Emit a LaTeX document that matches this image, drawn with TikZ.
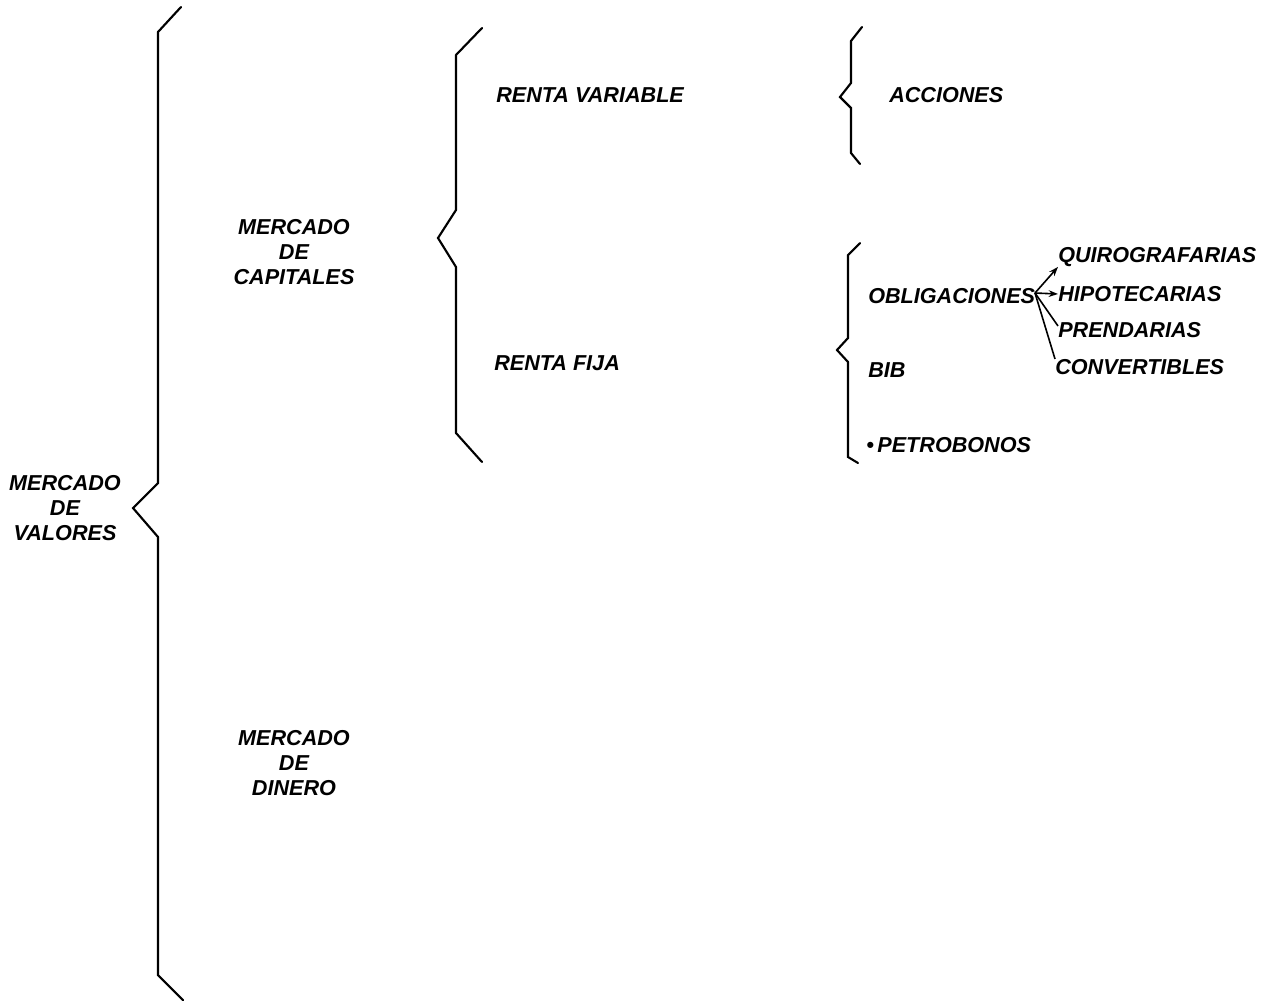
\documentclass[tikz,border=0pt]{standalone}
\usepackage{fontspec}
\setmainfont{Liberation Sans}
\usetikzlibrary{arrows.meta}
\begin{document}
\begin{tikzpicture}[x=0.75pt,y=-0.75pt,
  brace/.style={line width=1.6pt,line join=miter,line cap=round},
  lbl/.style={font=\fontsize{16.2}{18.75}\selectfont\bfseries\itshape,inner sep=0pt},
  lblw/.style={lbl,anchor=west},
  lblc/.style={lbl,align=center},
  arr/.style={line width=1.2pt,-{Stealth[length=7pt,width=5pt]}},
  arrn/.style={line width=1.2pt}]
\useasboundingbox (0,0) rectangle (1261,1004);
% braces
\draw[brace] (181,7) -- (158,32) -- (158,483) -- (133,508) -- (158,537) -- (158,975) -- (183,1000);
\draw[brace] (482,28) -- (456,55) -- (456,210) -- (438,238) -- (456,267) -- (456,433) -- (482,462);
\draw[brace] (862,27) -- (851,41) -- (851,83) -- (840,97) -- (851,108) -- (851,153) -- (860,164);
\draw[brace] (860,243) -- (848,255) -- (848,338) -- (837,350) -- (848,362) -- (848,457) -- (858,463);
% labels
\node[lblc] (mv) at (65,508) {MERCADO\\DE\\VALORES};
\node[lblc] (mc) at (294,252) {MERCADO\\DE\\CAPITALES};
\node[lblc] (md) at (294,763) {MERCADO\\DE\\DINERO};
\node[lblw] (rv) at (496,95) {RENTA VARIABLE};
\node[lblw] (rf) at (494,363) {RENTA FIJA};
\node[lblw] (ac) at (889,95) {ACCIONES};
\node[lblw] (ob) at (868,296) {OBLIGACIONES};
\node[lblw] (bib) at (868,370) {BIB};
\node[lblw] (pe) at (866,445) {\textbullet\,PETROBONOS};
\node[lblw] (qu) at (1058,257) {QUIROGRAFARIAS};
\node[lblw] (hi) at (1058,294) {HIPOTECARIAS};
\node[lblw] (pr) at (1058,330) {PRENDARIAS};
\node[lblw] (co) at (1055,367) {CONVERTIBLES};
\coordinate (o) at (1035,293);
\draw[arr] (o) -- (qu.south west);
\draw[arr] (o) -- (hi.west);
\draw[arrn] (o) -- ([yshift=3pt]pr.west);
\draw[arrn] (o) -- ([yshift=6pt]co.west);
\end{tikzpicture}
\end{document}
